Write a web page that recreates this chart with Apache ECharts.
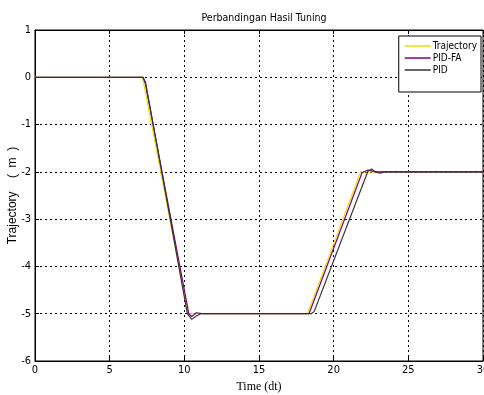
<!DOCTYPE html>
<html>
<head>
<meta charset="utf-8">
<script src="https://cdn.jsdelivr.net/npm/echarts@6/dist/echarts.min.js"></script>
<style>
html,body{margin:0;padding:0;background:#fff;}
#chart{width:484px;height:395px;}
</style>
</head>
<body>
<div id="chart"></div>
<script>
const seriesNames = ['Trajectory', 'PID-FA', 'PID'];
const trajectory = [[0,0],[7.2,0],[10.25,-5],[18.25,-5],[21.8,-2],[30,-2]];
const pidFA = [[0,0],[7.25,0],[7.4,-0.15],[10.3,-5],[10.5,-5.06],[10.8,-4.98],[11.2,-5],[18.35,-5],[21.9,-2.02],[22.3,-1.96],[22.8,-2.0],[23.1,-2.03],[23.4,-2],[30,-2]];
const pid = [[0,0],[7.2,0],[7.4,-0.1],[10.2,-5],[10.5,-5.12],[10.8,-5.05],[11.1,-5],[18.5,-5],[18.7,-4.95],[22.3,-1.98],[22.55,-1.94],[22.8,-2],[30,-2]];
const xTicks = [0,5,10,15,20,25,30];
const yTicks = [-6,-5,-4,-3,-2,-1,0,1];

const narrow = "'DejaVu Sans Condensed', 'Liberation Sans Narrow', 'Liberation Sans', sans-serif";
const chart = echarts.init(document.getElementById('chart'), null, {renderer:'canvas'});
const colors = ['#e6e600', '#800080', '#333333'];
chart.setOption({
  animation: false,
  backgroundColor: '#fff',
  title: {
    text: 'Perbandingan Hasil Tuning',
    left: 259, textAlign: 'center', top: 8,
    textStyle: {fontFamily: narrow, fontSize: 10.5, fontWeight: 'normal', color: '#000'}
  },
  grid: {left: 35, right: 1, top: 30, bottom: 34, show: true, borderColor: '#000', borderWidth: 1,
    backgroundColor: 'transparent', outerBoundsMode: 'none', containLabel: false},
  legend: {
    data: seriesNames,
    orient: 'vertical', right: 3, top: 36,
    backgroundColor: '#fff', borderColor: '#000', borderWidth: 1,
    padding: [5, 4, 17, 6],
    itemWidth: 26, itemHeight: 1.5, itemGap: 2,
    icon: 'rect',
    textStyle: {fontFamily: narrow, fontSize: 10, color: '#000', lineHeight: 10, padding: [0,0,0,-3]}
  },
  xAxis: [{
    type: 'value', min: 0, max: 30, interval: 5,
    name: 'Time (dt)', nameLocation: 'middle', nameGap: 20, nameMoveOverlap: false,
    nameTextStyle: {fontFamily: "'Liberation Serif', 'Times New Roman', serif", fontSize: 12, color: '#000'},
    axisLine: {show: true, onZero: false, lineStyle: {color: '#000', width: 1}},
    axisTick: {show: true, inside: true, length: 4, lineStyle: {color: '#000'}},
    axisLabel: {fontFamily: narrow, fontSize: 11, color: '#000', margin: 4,
      formatter: v => xTicks.includes(v) ? String(v) : ''},
    splitLine: {show: true, lineStyle: {color: '#000', type: [2, 3], width: 1}}
  }, {
    type: 'value', min: 0, max: 30, interval: 5, position: 'top',
    axisLine: {show: true, onZero: false, lineStyle: {color: '#000'}},
    axisTick: {show: true, inside: true, length: 4, lineStyle: {color: '#000'}},
    axisLabel: {show: false}, splitLine: {show: false}
  }],
  yAxis: {
    type: 'value', min: -6, max: 1, interval: 1,
    name: 'Trajectory    (  m  )', nameLocation: 'middle', nameGap: 16, nameRotate: 90, nameMoveOverlap: false,
    nameTextStyle: {fontFamily: "'Liberation Sans', Arial, sans-serif", fontSize: 12, color: '#000'},
    axisLine: {show: true, onZero: false, lineStyle: {color: '#000', width: 1}},
    axisTick: {show: true, inside: true, length: 4, lineStyle: {color: '#000'}},
    axisLabel: {fontFamily: narrow, fontSize: 11, color: '#000', margin: 4,
      formatter: v => yTicks.includes(v) ? String(v) : ''},
    splitLine: {show: true, lineStyle: {color: '#000', type: [2, 3], width: 1}}
  },
  series: [
    {name: seriesNames[0], type: 'line', data: trajectory, showSymbol: false, symbol: 'none', color: colors[0], lineStyle: {width: 1.2, color: colors[0]}},
    {name: seriesNames[1], type: 'line', data: pidFA, showSymbol: false, symbol: 'none', color: colors[1], lineStyle: {width: 1.2, color: colors[1]}},
    {name: seriesNames[2], type: 'line', data: pid, showSymbol: false, symbol: 'none', color: colors[2], lineStyle: {width: 1.2, color: colors[2]}}
  ]
});
</script>
</body>
</html>
